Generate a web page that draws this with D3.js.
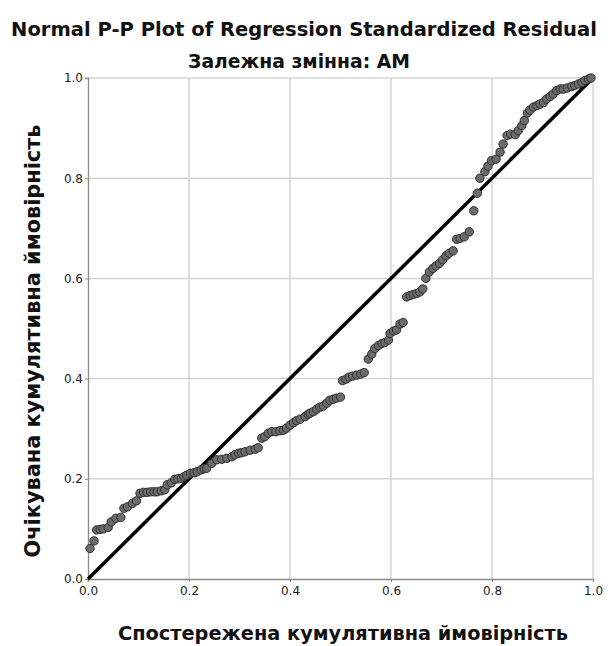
<!DOCTYPE html>
<html><head><meta charset="utf-8">
<script src="https://cdn.jsdelivr.net/npm/d3@7"></script>
<style>body{margin:0;background:#fff}</style>
</head><body>
<script>
const observed = [0.004,0.012,0.017,0.024,0.030,0.040,0.046,0.055,0.065,0.071,0.078,0.088,0.096,0.103,0.110,0.117,0.124,0.131,0.137,0.145,0.152,0.157,0.165,0.172,0.178,0.185,0.190,0.195,0.203,0.210,0.216,0.224,0.230,0.235,0.245,0.255,0.265,0.275,0.285,0.291,0.298,0.304,0.311,0.321,0.331,0.337,0.344,0.350,0.357,0.364,0.372,0.380,0.387,0.393,0.400,0.407,0.413,0.420,0.430,0.436,0.440,0.446,0.453,0.459,0.466,0.473,0.479,0.486,0.492,0.500,0.504,0.511,0.517,0.524,0.532,0.540,0.547,0.555,0.562,0.568,0.575,0.582,0.588,0.595,0.598,0.605,0.611,0.618,0.624,0.631,0.638,0.644,0.651,0.657,0.663,0.669,0.676,0.683,0.689,0.696,0.702,0.709,0.715,0.723,0.730,0.737,0.745,0.755,0.764,0.771,0.776,0.786,0.792,0.799,0.808,0.816,0.822,0.830,0.837,0.846,0.852,0.859,0.864,0.870,0.875,0.882,0.889,0.895,0.902,0.908,0.915,0.921,0.928,0.935,0.941,0.949,0.958,0.964,0.971,0.978,0.984,0.991,0.996];
const expected = [0.061,0.076,0.098,0.099,0.100,0.103,0.114,0.121,0.123,0.141,0.144,0.151,0.156,0.171,0.173,0.173,0.174,0.174,0.174,0.176,0.178,0.188,0.192,0.199,0.200,0.201,0.204,0.207,0.211,0.212,0.214,0.218,0.220,0.221,0.231,0.238,0.239,0.241,0.244,0.248,0.251,0.252,0.254,0.257,0.259,0.262,0.281,0.284,0.291,0.294,0.294,0.296,0.297,0.301,0.307,0.312,0.316,0.319,0.324,0.329,0.331,0.334,0.339,0.343,0.345,0.351,0.357,0.359,0.361,0.363,0.396,0.399,0.403,0.405,0.407,0.409,0.412,0.439,0.449,0.460,0.466,0.470,0.472,0.477,0.490,0.495,0.497,0.509,0.512,0.563,0.566,0.568,0.570,0.573,0.579,0.600,0.613,0.620,0.625,0.630,0.637,0.645,0.650,0.655,0.678,0.680,0.683,0.693,0.735,0.770,0.800,0.813,0.824,0.835,0.838,0.852,0.868,0.885,0.888,0.887,0.895,0.905,0.915,0.930,0.936,0.942,0.945,0.948,0.951,0.958,0.963,0.968,0.975,0.978,0.978,0.980,0.983,0.985,0.988,0.991,0.995,0.998,1.000];
const tickValues = [0.0,0.2,0.4,0.6,0.8,1.0];
const diagonal = [0,1];
const title = "Normal P-P Plot of Regression Standardized Residual";
const subtitle = "Залежна змінна: AM";
const xLabel = "Спостережена кумулятивна ймовірність";
const yLabel = "Очікувана кумулятивна ймовірність";

const W = 608, H = 646;
const L = 88, R = 593, T = 78, B = 579;
const svg = d3.select("body").append("svg").attr("width", W).attr("height", H);
const x = d3.scaleLinear().domain([0,1]).range([L,R]);
const y = d3.scaleLinear().domain([0,1]).range([B,T]);
const font = "'DejaVu Sans', Verdana, sans-serif";

function fit(sel, target, size) {
  sel.style("font-size", size + "px");
  const w = sel.node().getComputedTextLength();
  sel.style("font-size", (size * target / w).toFixed(2) + "px");
}

// grid
const g = svg.append("g");
g.selectAll(".vg").data(tickValues.slice(1)).join("line")
  .attr("x1", d => x(d)).attr("x2", d => x(d)).attr("y1", T).attr("y2", B)
  .attr("stroke", "#d4d4d4").attr("stroke-width", 1.5);
g.selectAll(".hg").data(tickValues.slice(1)).join("line")
  .attr("y1", d => y(d)).attr("y2", d => y(d)).attr("x1", L).attr("x2", R)
  .attr("stroke", "#d4d4d4").attr("stroke-width", 1.5);

// axes
const xAxis = svg.append("g").attr("transform", `translate(0,${B})`)
  .call(d3.axisBottom(x).tickValues(tickValues).tickFormat(d3.format(".1f")).tickSize(3));
const yAxis = svg.append("g").attr("transform", `translate(${L},0)`)
  .call(d3.axisLeft(y).tickValues(tickValues).tickFormat(d3.format(".1f")).tickSize(3));
[xAxis, yAxis].forEach(a => {
  a.select(".domain").attr("stroke", "#8a8a8a").attr("stroke-width", 1.3);
  a.selectAll(".tick line").attr("stroke", "#8a8a8a");
  a.selectAll("text").attr("fill", "#222").style("font-family", font).style("font-size", "12px");
});
xAxis.selectAll("text").attr("dy", "0.85em");
yAxis.selectAll("text").attr("x", -5);

// diagonal line
svg.append("line")
  .attr("x1", x(diagonal[0])).attr("y1", y(diagonal[0]))
  .attr("x2", x(diagonal[1])).attr("y2", y(diagonal[1]))
  .attr("stroke", "#000").attr("stroke-width", 3.5);

// points
svg.append("g").selectAll("circle").data(observed.map((o,i)=>[o, expected[i]])).join("circle")
  .attr("cx", d => x(d[0])).attr("cy", d => y(d[1])).attr("r", 4.2)
  .attr("fill", "#6b6b6b").attr("stroke", "#2e2e2e").attr("stroke-width", 1);

// texts
const t1 = svg.append("text").attr("x", 304).attr("y", 36).attr("text-anchor", "middle")
  .style("font-family", font).style("font-weight", "bold").attr("fill", "#111").text(title);
fit(t1, 586, 16);
const t2 = svg.append("text").attr("x", 299).attr("y", 68).attr("text-anchor", "middle")
  .style("font-family", font).style("font-weight", "bold").attr("fill", "#111").text(subtitle);
fit(t2, 222, 15);
const tx = svg.append("text").attr("x", 343).attr("y", 640).attr("text-anchor", "middle")
  .style("font-family", font).style("font-weight", "bold").attr("fill", "#111").text(xLabel);
fit(tx, 450, 17);
const ty = svg.append("text").attr("transform", "translate(40,341) rotate(-90)").attr("text-anchor", "middle")
  .style("font-family", font).style("font-weight", "bold").attr("fill", "#111").text(yLabel);
fit(ty, 433, 17);
</script>
</body></html>
